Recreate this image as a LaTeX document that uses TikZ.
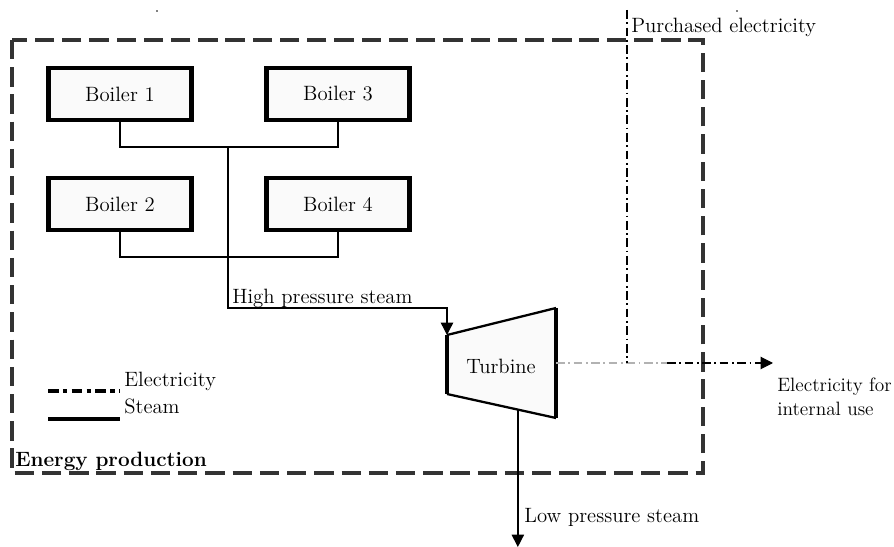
\documentclass[tikz,border=0pt]{standalone}
\usepackage{tikz}
\usepackage{xcolor}
\usetikzlibrary{arrows.meta}
\usetikzlibrary{calc}
\definecolor{boxgray}{HTML}{333333}
\definecolor{paper}{HTML}{FAFAFA}
\tikzstyle{boilerbox} = [draw=black, fill=paper, line width=2.8pt,
rectangle, minimum width=2.85cm, minimum height=1.04cm, font=\fontsize{11.8}{14}\selectfont]
\tikzstyle{steam} = [draw=black, line width=0.8pt]
\tikzstyle{elec} = [draw=black, line width=0.6pt, dash pattern=on 5pt off 2pt on 1pt off 2pt]
\tikzstyle{lbl} = [inner sep=0pt, font=\fontsize{11.8}{14}\selectfont]
\tikzstyle{tip} = [-{Triangle[length=7pt, width=7pt]}]

\begin{document}
\begin{tikzpicture}[x=0.02cm, y=-0.02cm]
        \useasboundingbox (0,0) rectangle (894,547);
        % system boundary
        \draw[boxgray, line width=2.3pt, dash pattern=on 11pt off 4.5pt] (12,40) rectangle (703,473);
        \fill (157,11) circle (0.8);
        \fill (737,11) circle (0.8);
        % boilers
        \node[boilerbox] (b1) at (120,94) {Boiler 1};
        \node[boilerbox] (b3) at (338,94) {Boiler 3};
        \node[boilerbox] (b2) at (120,204) {Boiler 2};
        \node[boilerbox] (b4) at (338,204) {Boiler 4};
        \coordinate (j1) at (228,147);
        \coordinate (j2) at (228,257);
        \coordinate (hp) at (228,308);
        \draw[steam] (b1.south) |- (j1) -| (b3.south);
        \draw[steam] (b2.south) |- (j2) -| (b4.south);
        % turbine
        \coordinate (tl) at (447,335);
        \coordinate (bl) at (447,394);
        \coordinate (tr) at (556,308);
        \coordinate (br) at (556,418);
        \fill[paper] (tl) -- (tr) -- (br) -- (bl) -- cycle;
        \draw[line width=1.3pt] (tl) -- (tr) (bl) -- (br);
        \draw[line width=2.8pt] (tl) -- (bl) (tr) -- (br);
        \node[lbl] (turbine) at (501,366) {Turbine};
        \draw[steam, tip] (j1) -- (hp) -| (tl);
        \node[lbl, anchor=south west] (hplabel) at (232,308) {High pressure steam};
        \coordinate (lpout) at ($(bl)!0.65!(br)$);
        \coordinate (lpend) at (lpout |- 0,547);
        \draw[steam, tip] (lpout) -- (lpend);
        \node[lbl, anchor=west] (lplabel) at (524,517) {Low pressure steam};
        % electricity
        \coordinate (eout) at (556,363);
        \coordinate (emix) at (627,363);
        \coordinate (ebuy) at (627,10);
        \coordinate (eblk) at (667,363);
        \coordinate (eend) at (773,363);
        \draw[elec, gray!60] (eout) -- (eblk);
        \draw[elec, tip] (eblk) -- (eend);
        \draw[elec] (ebuy) -- (emix);
        \node[lbl, anchor=west] (buylabel) at (631,27) {Purchased electricity};
        \node[lbl, anchor=north west, align=left, font=\fontsize{11}{13.5}\selectfont] (uselabel) at (777,378) {Electricity for\\internal use};
        % legend
        \coordinate (la) at (48,391);
        \coordinate (lb) at (120,391);
        \coordinate (lc) at (48,419);
        \coordinate (ld) at (120,419);
        \draw[line width=2.3pt, dash pattern=on 6pt off 2.5pt on 2.5pt off 2.5pt] (la) -- (lb);
        \draw[line width=2.3pt] (lc) -- (ld);
        \node[lbl, anchor=base west] (legelec) at (124,387) {Electricity};
        \node[lbl, anchor=base west] (legsteam) at (124,414) {Steam};
        \node[lbl, anchor=west, font=\fontsize{11.8}{14}\selectfont\bfseries] (title) at (15,461) {Energy production};
    \end{tikzpicture}
\end{document}
